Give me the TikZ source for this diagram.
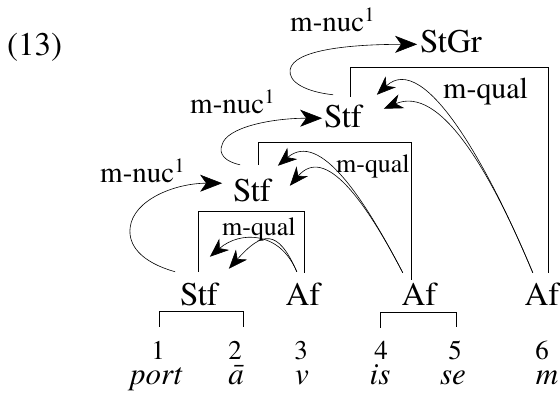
\documentclass[tikz,border=0pt]{standalone}
\usepackage{fontspec}
\setmainfont{TeX Gyre Termes}
\usetikzlibrary{arrows.meta}
\begin{document}
\begin{tikzpicture}[x=1pt,y=-1pt,
  cat/.style={inner sep=0pt, anchor=base, font=\fontsize{33}{38}\selectfont},
  num/.style={inner sep=0pt, anchor=base, font=\fontsize{27}{32}\selectfont},
  wrd/.style={inner sep=0pt, anchor=base, font=\fontsize{31}{36}\selectfont\itshape},
  rel/.style={inner sep=0pt, anchor=base west, font=\fontsize{29}{34}\selectfont},
  relbig/.style={inner sep=0pt, anchor=base west, font=\fontsize{30}{36}\selectfont},
  relsmall/.style={inner sep=0pt, anchor=base west, font=\fontsize{26}{32}\selectfont},
  exstyle/.style={inner sep=0pt, anchor=base west, font=\fontsize{33}{38}\selectfont},
  nucarrow/.style={line width=0.6pt, -{Stealth[length=22pt,width=17pt,inset=6pt]}},
  qualarrow/.style={line width=0.6pt, -{Stealth[length=19pt,width=15pt,inset=6pt]}},
  boxline/.style={line width=0.7pt},
]
\useasboundingbox (0,0) rectangle (560,400);

% example number
\node[exstyle] (exno) at (7,55) {(13)};

% category nodes
\node[cat] (StGr) at (451,52) {StGr};
\node[cat] (Stf2) at (343,127) {Stf};
\node[cat] (Stf1) at (252,201) {Stf};
\node[cat] (Stf0) at (199,305) {Stf};
\node[cat] (Af3) at (303,305) {Af};
\node[cat] (Af4) at (419,305) {Af};
\node[cat] (Af6) at (542,305) {Af};

% numbers
\node[num] (n1) at (158,359) {1};
\node[num] (n2) at (235,359) {2};
\node[num] (n3) at (301,359) {3};
\node[num] (n4) at (381,359) {4};
\node[num] (n5) at (455,359) {5};
\node[num] (n6) at (542,359) {6};

% words
\node[wrd] (w1) at (156,384) {port};
\node[wrd] (w2) at (236,384) {ā};
\node[wrd] (w3) at (302,384) {v};
\node[wrd] (w4) at (380,384) {is};
\node[wrd] (w5) at (453,384) {se};
\node[wrd] (w6) at (547,384) {m};

% relation labels
\node[rel] (nucL2) at (290,31) {m-nuc\textsuperscript{1}};
\node[rel] (nucL1) at (190,113) {m-nuc\textsuperscript{1}};
\node[rel] (nucL0) at (100,182) {m-nuc\textsuperscript{1}};
\node[relbig] (qualL2) at (443,98) {m-qual};
\node[relsmall] (qualL1) at (336,172) {m-qual};
\node[relsmall] (qualL0) at (222,235) {m-qual};

% brackets
\draw[boxline] ([shift={(1,-13.75)}]n1.north) -- ++(0,-15) -| ([shift={(8,-13.75)}]n2.north);
\draw[boxline] ([shift={(-1,-12.75)}]n4.north) -- ++(0,-15) -| ([shift={(1,-12.75)}]n5.north);

% boxes
\draw[boxline] ([shift={(-1,-10.5)}]Stf0.north) -- ++(0,-60) -| ([shift={(1,-9.5)}]Af3.north);
\draw[boxline] ([shift={(6,-13.5)}]Stf1.north) -- ++(0,-22) -| ([shift={(-8,-2.5)}]Af4.north);
\draw[boxline] ([shift={(7,-7.5)}]Stf2.north) -- ++(0,-29) -| ([shift={(6,-9.5)}]Af6.north);

% m-nuc arrows
\draw[nucarrow] ([shift={(-4.75,-10.5)}]Stf0.north west)
  .. controls +(-35,-10) and +(-2,17) .. ++(-45,-44)
  .. controls +(3,-28) and +(-47,0) .. ([shift={(-10.75,-6.75)}]Stf1.west);
\draw[nucarrow] ([shift={(7.25,-13.5)}]Stf1.north west)
  .. controls +(-15,-3) and +(-4,9) .. ++(-18,-20)
  .. controls +(4,-17) and +(-52,0) .. ([shift={(-1.75,2.25)}]Stf2.west);
\draw[nucarrow] ([shift={(9.25,-9.5)}]Stf2.north west)
  .. controls +(-28,-3) and +(-2,12) .. ++(-43,-25)
  .. controls +(3,-20) and +(-67,0) .. ([shift={(-2.85,3.25)}]StGr.west);

% m-qual arrows
\draw[qualarrow] ([shift={(8.4,-9.5)}]Af6.north west)
  .. controls +(-43,-103) and +(48,-45) .. ([shift={(14.75,-9.5)}]Stf2.north east);
\draw[qualarrow] ([shift={(8.4,-9.5)}]Af6.north west)
  .. controls +(-43,-103) and +(56,-24) .. ([shift={(21.75,4.5)}]Stf2.north east);
\draw[qualarrow] ([shift={(1.4,-9.5)}]Af4.north west)
  .. controls +(-38,-73) and +(42,-36) .. ([shift={(6.75,-12.5)}]Stf1.north east);
\draw[qualarrow] ([shift={(1.4,-9.5)}]Af4.north west)
  .. controls +(-38,-73) and +(35,-41) .. ([shift={(18.75,7.5)}]Stf1.north east);
\draw[qualarrow] ([shift={(11.4,-10.5)}]Af3.north west)
  .. controls +(-17,-41) and +(30,-26) .. ([shift={(-8.25,-25.5)}]Stf0.north east);
\draw[qualarrow] ([shift={(11.4,-10.5)}]Af3.north west)
  .. controls +(-19,-44) and +(33,-37) .. ([shift={(10.75,-13.5)}]Stf0.north east);
\end{tikzpicture}
\end{document}
